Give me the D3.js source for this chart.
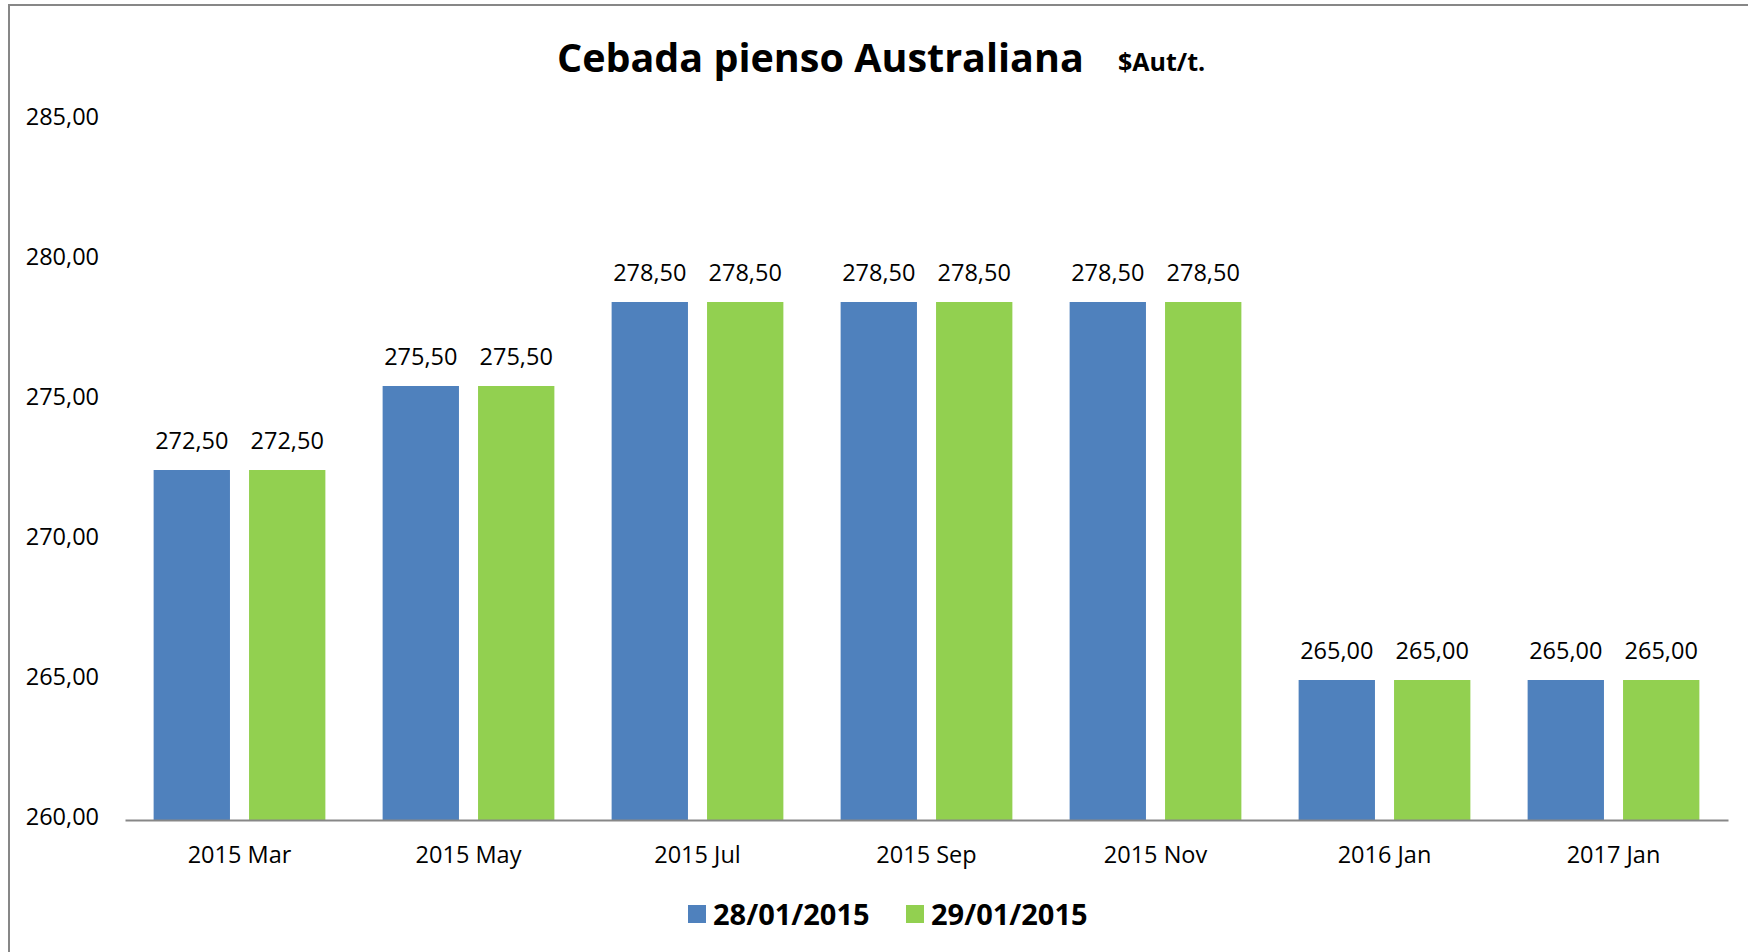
<!DOCTYPE html>
<html>
<head>
<meta charset="utf-8">
<style>
  body { margin: 0; background: #fff; }
  svg { display: block; }
</style>
</head>
<body>
<div id="chart"></div>
<script src="https://d3js.org/d3.v7.min.js"></script>
<script>
    // data
    var categories = ["2015 Mar", "2015 May", "2015 Jul", "2015 Sep", "2015 Nov", "2016 Jan", "2017 Jan"];
    var seriesNames = ["28/01/2015", "29/01/2015"];
    var serie1 = [272.5, 275.5, 278.5, 278.5, 278.5, 265.0, 265.0];
    var serie2 = [272.5, 275.5, 278.5, 278.5, 278.5, 265.0, 265.0];
    var yTicks = [260, 265, 270, 275, 280, 285];
    var colors = ["#4F81BD", "#92D050"];

    var w = 1748;
    var h = 952;
    var font = "'Open Sans', 'Noto Sans', sans-serif";

    var es = d3.formatLocale({ decimal: ",", thousands: ".", grouping: [3], currency: ["", ""] });
    var fmt = es.format(".2f");

    var rows = categories.map(function (c, i) {
        return { cat: c, vals: [serie1[i], serie2[i]] };
    });

    var svg = d3.select('#chart')
        .append('svg')
        .attr('width', w)
        .attr('height', h);

    svg.append('rect')
        .attr('width', w)
        .attr('height', h)
        .attr('fill', '#fff');

    // chart area border (only top & left visible)
    svg.append('path')
        .attr('d', "M9," + h + "V5H" + w)
        .attr('fill', 'none')
        .attr('stroke', '#878787')
        .attr('stroke-width', 2);

    var x0 = d3.scaleBand()
        .domain(categories)
        .range([125, 1728])
        .padding(0);

    var x1 = d3.scaleBand()
        .domain(seriesNames)
        .range([0, x0.bandwidth()])
        .paddingInner(0.2)
        .paddingOuter(0.3);

    var y = d3.scaleLinear()
        .domain([260, 285])
        .range([820, 120]);

    // y axis labels, no line
    var yAxis = svg.append('g')
        .attr('transform', 'translate(125,0)')
        .call(d3.axisLeft(y).tickValues(yTicks).tickFormat(fmt).tickSize(0).tickPadding(26));
    yAxis.select('.domain').remove();
    yAxis.selectAll('text')
        .attr('dy', '0.2em')
        .style('font-family', font)
        .style('font-size', '23.5px')
        .attr('fill', '#000');

    // bars
    var groups = svg.selectAll('g.cat')
        .data(rows)
        .enter()
        .append('g')
        .attr('class', 'cat')
        .attr('transform', function (d) { return 'translate(' + x0(d.cat) + ',0)'; });

    groups.selectAll('rect')
        .data(function (d) {
            return d.vals.map(function (v, i) { return { s: seriesNames[i], v: v, i: i }; });
        })
        .enter()
        .append('rect')
        .attr('x', function (d) { return x1(d.s); })
        .attr('y', function (d) { return y(d.v); })
        .attr('width', x1.bandwidth())
        .attr('height', function (d) { return y(260) - y(d.v); })
        .attr('fill', function (d) { return colors[d.i]; });

    groups.selectAll('text.val')
        .data(function (d) {
            return d.vals.map(function (v, i) { return { s: seriesNames[i], v: v }; });
        })
        .enter()
        .append('text')
        .attr('class', 'val')
        .attr('x', function (d) { return x1(d.s) + x1.bandwidth() / 2; })
        .attr('y', function (d) { return y(d.v) - 21; })
        .attr('text-anchor', 'middle')
        .style('font-family', font)
        .style('font-size', '23.5px')
        .text(function (d) { return fmt(d.v); });

    // x axis
    var xAxis = svg.append('g')
        .attr('transform', 'translate(0,820)')
        .call(d3.axisBottom(x0).tickSize(0).tickSizeOuter(0).tickPadding(26));
    xAxis.select('.domain')
        .attr('stroke', '#878787')
        .attr('stroke-width', 2);
    xAxis.selectAll('text')
        .style('font-family', font)
        .style('font-size', '23.5px')
        .attr('fill', '#000');

    // title
    svg.append('text')
        .attr('x', 557)
        .attr('y', 72)
        .style('font-family', font)
        .style('font-weight', 'bold')
        .style('font-size', '39.5px')
        .text("Cebada pienso Australiana");

    svg.append('text')
        .attr('x', 1118)
        .attr('y', 71)
        .style('font-family', font)
        .style('font-weight', 'bold')
        .style('font-size', '25px')
        .text("$Aut/t.");

    // legend
    var legX = [688, 906];
    var leg = svg.selectAll('g.leg')
        .data(seriesNames)
        .enter()
        .append('g')
        .attr('class', 'leg')
        .attr('transform', function (d, i) { return 'translate(' + legX[i] + ',905)'; });
    leg.append('rect')
        .attr('width', 18)
        .attr('height', 18)
        .attr('fill', function (d, i) { return colors[i]; });
    leg.append('text')
        .attr('x', 25)
        .attr('y', 20)
        .style('font-family', font)
        .style('font-weight', 'bold')
        .style('font-size', '29px')
        .text(function (d) { return d; });
</script>
</body>
</html>
